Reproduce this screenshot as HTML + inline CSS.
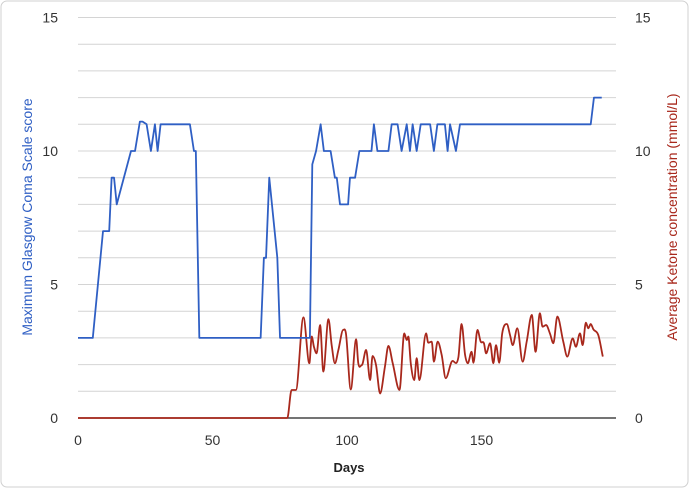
<!DOCTYPE html>
<html><head><meta charset="utf-8"><style>
html,body{margin:0;padding:0;background:#fff;}
svg{display:block;font-family:"Liberation Sans",sans-serif;}
</style></head><body>
<svg id="chart" width="689" height="488" viewBox="0 0 689 488">
<rect x="1" y="1" width="687" height="486" rx="6" fill="#fff" stroke="#d0d0d0"/>
<g id="grid"></g>
<g id="axes"></g>
<g id="series"></g>
<text x="349" y="472" text-anchor="middle" font-size="13" font-weight="bold" fill="#222">Days</text>
<text transform="translate(32,217) rotate(-90)" text-anchor="middle" font-size="14" fill="#2f5fc4">Maximum Glasgow Coma Scale score</text>
<text transform="translate(677,217) rotate(-90)" text-anchor="middle" font-size="14" fill="#a8281c">Average Ketone concentration (mmol/L)</text>
</svg>
<script>
const xTicks=[0,50,100,150];
const yTicks=[0,5,10,15];
const gcsDays=[0,5.5,9.3,11.6,12.5,13.4,14.4,19.7,21.2,23,24,25.5,27.1,28.6,29.6,30.7,41.6,43.1,43.8,45.1,67.9,69.1,69.9,71.1,74.1,75.1,86.2,87.1,88.5,90.2,91.4,93.9,95.5,96.2,97.4,100.4,101.1,103,104.6,109.1,110,111.3,115.4,116.6,118.8,120.3,122.2,123.4,124.4,125.9,127.4,130.9,132.3,133.6,136.4,137.4,138.3,140.5,142,190.6,191.8,194.7];
const gcsValues=[3,3,7,7,9,9,8,10,10,11.1,11.1,11,10,11,10,11,11,10,10,3,3,6,6,9,6,3,3,9.5,10,11,10,10,9,9,8,8,9,9,10,10,11,10,10,11,11,10,11,10,11,10,11,11,10,11,11,10,11,10,11,11,12,12];
const ketoneDays=[0,77.8,79.4,81,83.8,86,86.9,87.7,88.7,90,91.2,93.1,94.3,95.5,96.8,98.6,99.6,101.4,103.4,104.2,105.5,107.1,108.6,109.5,110.8,112.3,114.1,115.4,117,119.5,121.3,122.2,122.8,123.7,125,125.9,126.9,129.4,130.2,131.5,132.3,133.7,135.2,136.7,138.9,141.4,142.6,143.9,144.9,146.3,147,148.5,149.7,150.9,151.7,153.2,154.4,155.4,156.6,157.7,159.4,160.6,161.6,163.3,165.3,166.8,168.7,170.1,171.7,172.7,174,175.5,176.7,178.2,180.4,181.9,183.9,185.1,186.6,187.6,188.8,189.7,190.6,191.6,193.4,195.1];
const ketoneValues=[0,0,1.05,1.05,3.77,2.05,3.05,2.67,2.42,3.48,1.74,3.7,2.73,2.05,2.55,3.3,3.17,1.07,2.95,2.05,1.98,2.55,1.42,2.32,1.98,0.92,1.92,2.7,2.05,1.05,3.17,2.92,3.05,2.05,1.42,2.24,1.42,3.17,2.82,2.86,2.11,2.86,2.36,1.49,2.11,2.27,3.52,2.36,2.05,2.48,2.07,3.3,2.86,2.8,2.42,2.8,2.05,2.73,2.07,3.17,3.52,3.11,2.73,3.36,2.11,2.86,3.86,2.48,3.92,3.42,3.48,3.15,2.8,3.8,2.86,2.3,2.98,2.67,3.17,2.73,3.57,3.36,3.52,3.32,3.11,2.3];
const X=d=>78+d*2.69;
const Y=v=>418-v*26.7;
const NS='http://www.w3.org/2000/svg';
function mk(tag,attrs,parent){const e=document.createElementNS(NS,tag);for(const k in attrs)e.setAttribute(k,attrs[k]);parent.appendChild(e);return e;}
const grid=document.getElementById('grid'),axes=document.getElementById('axes'),series=document.getElementById('series');
for(let v=1;v<=15;v++){
  const l=mk('line',{x1:78,x2:616,y1:Y(v),y2:Y(v),stroke:'#d4d4d4','stroke-width':1},grid);
  
  
}
const ax=mk('line',{x1:78,x2:616,y1:Y(0),y2:Y(0),stroke:'#222','stroke-width':1.2},axes);


xTicks.forEach(t=>{
  const tx=mk('text',{x:X(t),y:445,'text-anchor':'middle','font-size':14,fill:'#333'},axes);
  tx.textContent=t;
  
  
});
yTicks.forEach(t=>{
  const a=mk('text',{x:58,y:Y(t)+5,'text-anchor':'end','font-size':14,fill:'#333'},axes);
  a.textContent=t;
  
  
  const b=mk('text',{x:635,y:Y(t)+5,'text-anchor':'start','font-size':14,fill:'#333'},axes);
  b.textContent=t;
  
  
});
// ketone: monotone cubic (no overshoot on flat parts)
const kp=ketoneDays.map((d,i)=>[X(d),Y(ketoneValues[i])]);
const n=kp.length,sl=[],m=[];
for(let i=0;i<n-1;i++)sl.push((kp[i+1][1]-kp[i][1])/(kp[i+1][0]-kp[i][0]));
for(let i=0;i<n;i++){
  if(i===0)m.push(sl[0]);else if(i===n-1)m.push(sl[n-2]);
  else if(sl[i-1]*sl[i]<=0)m.push(0);
  else m.push((sl[i-1]+sl[i])/2);
}
let kd='M'+kp[0][0]+','+kp[0][1];
for(let i=0;i<n-1;i++){
  const h=(kp[i+1][0]-kp[i][0])/3;
  kd+=` C${kp[i][0]+h},${kp[i][1]+m[i]*h} ${kp[i+1][0]-h},${kp[i+1][1]-m[i+1]*h} ${kp[i+1][0]},${kp[i+1][1]}`;
}
const kl=mk('path',{d:kd,fill:'none',stroke:'#a8281c','stroke-width':1.8,'stroke-linejoin':'round'},series);


const gd=gcsDays.map((d,i)=>(i?'L':'M')+X(d)+','+Y(gcsValues[i])).join(' ');
const gl=mk('path',{d:gd,fill:'none',stroke:'#2f5fc4','stroke-width':1.8,'stroke-linejoin':'round'},series);


</script>
</body></html>
